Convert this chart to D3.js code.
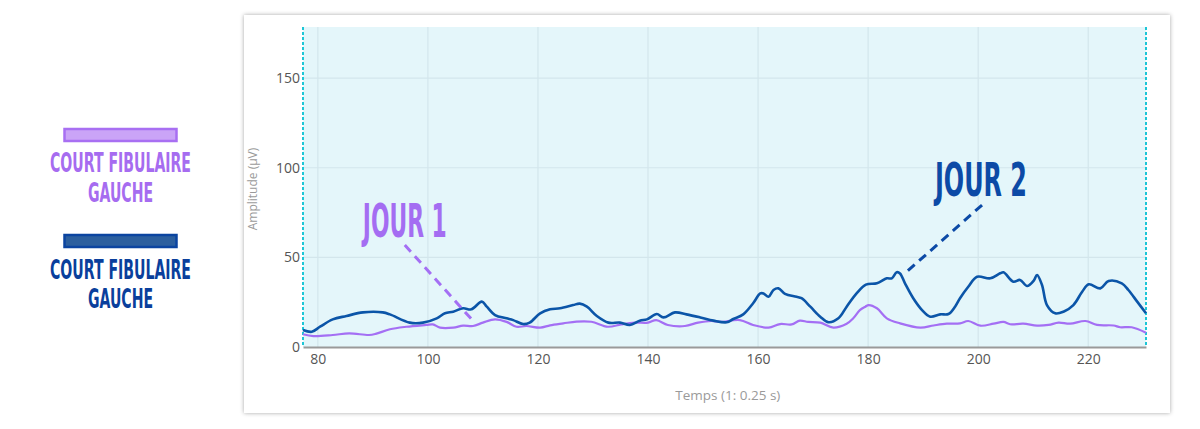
<!DOCTYPE html>
<html>
<head>
<meta charset="utf-8">
<script src="https://cdn.jsdelivr.net/npm/d3@7"></script>
<style>
  html, body { margin: 0; padding: 0; background: #ffffff; }
  svg { display: block; }
</style>
</head>
<body>
<svg id="chart" width="1200" height="429"></svg>
<script>
// ---- data ----
const xTicks = [80, 100, 120, 140, 160, 180, 200, 220];
const yTicks = [0, 50, 100, 150];
const legendLabels = ["COURT FIBULAIRE", "GAUCHE"];
const annotationLabels = ["JOUR 1", "JOUR 2"];
const xAxisTitle = "Temps (1: 0.25 s)";
const yAxisTitle = "Amplitude (µV)";

// Jour 2 (dark blue)
const jour2X = [77.3, 78.9, 80.4, 82.7, 85.2, 88.2, 91.8, 93.1, 96.7, 99.1, 101.6, 103.1, 104.6, 106.4, 107.9, 109.8, 110.7, 112.2, 114.3, 115.5, 117.3, 118.5, 120.4, 122.2, 124, 126.4, 127.6, 128.9, 130.7, 132.8, 134.9, 136.7, 138.5, 139.8, 141.6, 142.8, 144.9, 147, 149.5, 151.9, 154.3, 155.5, 157.3, 159.1, 160.4, 161, 161.9, 162.8, 163.7, 164.9, 167, 167.9, 169.5, 171.3, 172.8, 174.6, 176.1, 177.9, 179.6, 181.6, 183.4, 184.3, 185.2, 185.8, 186.7, 188.2, 189.8, 191.3, 193.1, 194.6, 195.8, 196.7, 198.2, 199.8, 202.2, 204, 204.6, 206.4, 207.6, 208.9, 210.1, 210.7, 211.6, 212.5, 214, 215.5, 217.3, 218.9, 220.1, 222.2, 223.7, 226.1, 227.3, 228.9, 230.5];
const jour2Y = [9.5, 8.5, 11.3, 15.4, 17.3, 19.3, 19.3, 18.2, 13.6, 13.6, 16, 18.8, 19.7, 21.6, 21, 25.3, 22.5, 17.8, 16, 15, 12.8, 13.6, 18.8, 21, 21.6, 23.4, 24.2, 22.5, 17.3, 13.6, 13.6, 12.3, 14.7, 15.4, 18.4, 16.5, 19.3, 18.2, 16.5, 14.7, 13.8, 15.6, 18.2, 24.4, 29.9, 29.9, 28, 31.8, 32.7, 29.6, 28, 27.2, 22.5, 16.9, 13.8, 16, 22.5, 29.9, 34.8, 35.5, 38.3, 38.3, 41.7, 41, 35.5, 27.2, 20.6, 16.9, 18.2, 18.4, 22.5, 27.2, 33.6, 39.2, 38.3, 41.1, 41.7, 36.4, 37.4, 34, 37, 40.2, 34.6, 23.4, 18.8, 19.7, 23.4, 30.8, 35, 32.7, 36.8, 35.5, 31.8, 25.3, 18.8];

// Jour 1 (purple)
const jour1X = [77.3, 79.2, 82.7, 85.7, 89.3, 90.5, 93.1, 96.1, 99.7, 100.9, 102.2, 104.6, 106.4, 108.2, 110, 112.2, 114.3, 116.1, 117.9, 120.4, 122.2, 124.6, 127, 129.7, 132.7, 135.1, 137.6, 140, 141.5, 143.6, 146.7, 149.1, 151.5, 153.1, 156.7, 159.1, 161.9, 164, 166.1, 167.6, 169.1, 171.3, 173.7, 176.1, 177.3, 178.5, 179.5, 180.1, 181.6, 183.4, 185.8, 189.5, 191.9, 194.3, 196.7, 198.2, 200.4, 202.8, 204.6, 205.8, 208.2, 210.7, 212.8, 214.6, 216.7, 219.5, 221.6, 224.6, 225.8, 227.9, 230.5];
const jour1Y = [7.1, 6.1, 6.7, 7.6, 6.7, 7.3, 9.9, 11.3, 12.3, 12.6, 10.8, 10.8, 11.9, 11.7, 13.6, 15.4, 14, 11.3, 11.7, 10.8, 12.1, 13.2, 14.2, 14.1, 11.3, 12.6, 13.6, 13.6, 15, 12.3, 11.7, 13.6, 14.5, 14, 15, 12.3, 10.8, 12.8, 12.6, 14.7, 14, 13.6, 10.8, 13, 16, 20.6, 22.5, 23.4, 21.6, 16, 13.2, 10.8, 12, 13, 13.2, 14.5, 11.9, 13, 14, 12.7, 13, 11.9, 12.3, 13.6, 13, 14.5, 12.3, 12, 11, 11, 8];

// annotation anchor points in data units [x, y]
const jour1Leader = [[95.8, 56.9], [108.4, 13.9]];
const jour2Leader = [[200.7, 79.2], [186.8, 41.4]];
const jour1LabelPos = [95.8, 61.4];
const jour2LabelPos = [200.5, 84.2];

// ---- layout ----
const svg = d3.select("#chart");
const plot = { left: 303, right: 1146, top: 27, bottom: 347 };
const xScale = d3.scaleLinear().domain([77.3, 230.5]).range([plot.left, plot.right]);
const yScale = d3.scaleLinear().domain([0, 178.5]).range([plot.bottom, plot.top]);

const colPurple = "#a46ff4";
const colBlue = "#0b55a8";

const defs = svg.append("defs");
const f = defs.append("filter").attr("id", "shadow").attr("x", "-5%").attr("y", "-5%").attr("width", "110%").attr("height", "110%");
f.append("feDropShadow").attr("dx", 0).attr("dy", 0).attr("stdDeviation", 2).attr("flood-color", "#000").attr("flood-opacity", 0.35);

// card
svg.append("rect").attr("x", 244).attr("y", 15).attr("width", 926).attr("height", 398)
  .attr("fill", "#fff").attr("filter", "url(#shadow)");

// plot background
svg.append("rect").attr("x", plot.left).attr("y", plot.top)
  .attr("width", plot.right - plot.left).attr("height", plot.bottom - plot.top)
  .attr("fill", "#e4f6fa");

// grid
const g = svg.append("g");
g.selectAll("line.vg").data(xTicks).join("line")
  .attr("x1", d => xScale(d)).attr("x2", d => xScale(d))
  .attr("y1", plot.top).attr("y2", plot.bottom)
  .attr("stroke", "#d3e6ec").attr("stroke-width", 1.2);
g.selectAll("line.hg").data(yTicks.filter(d => d > 0)).join("line")
  .attr("x1", plot.left).attr("x2", plot.right)
  .attr("y1", d => yScale(d)).attr("y2", d => yScale(d))
  .attr("stroke", "#d3e6ec").attr("stroke-width", 1.2);

// axes via d3
const xAxis = d3.axisBottom(xScale).tickValues(xTicks).tickSize(0).tickPadding(7);
const xg = svg.append("g").attr("transform", `translate(0,${plot.bottom})`).call(xAxis);
xg.select(".domain").attr("stroke", "#9a9a9a").attr("stroke-width", 2);
xg.selectAll("text").attr("font-family", "Open Sans, sans-serif").attr("font-size", 14).attr("fill", "#555");

const yAxis = d3.axisLeft(yScale).tickValues(yTicks).tickSize(0).tickPadding(3);
const yg = svg.append("g").attr("transform", `translate(${plot.left},0)`).call(yAxis);
yg.select(".domain").remove();
yg.selectAll("text").attr("font-family", "Open Sans, sans-serif").attr("font-size", 14).attr("fill", "#555");

// dotted border lines
[plot.left, plot.right].forEach(x => {
  svg.append("line").attr("x1", x).attr("x2", x).attr("y1", plot.top).attr("y2", plot.bottom)
    .attr("stroke", "#1cc6d6").attr("stroke-width", 2).attr("stroke-dasharray", "3,2");
});

// titles
svg.append("text").attr("x", xScale(154.5)).attr("y", 400).attr("text-anchor", "middle")
  .attr("font-family", "Open Sans, sans-serif").attr("font-size", 13.5).attr("fill", "#9a9a9a")
  .text(xAxisTitle);
svg.append("text").attr("transform", "translate(257,189) rotate(-90)").attr("text-anchor", "middle")
  .attr("font-family", "Open Sans, sans-serif").attr("font-size", 12).attr("fill", "#9a9a9a")
  .text(yAxisTitle);

// lines
const line = d3.line().x(d => xScale(d[0])).y(d => yScale(d[1])).curve(d3.curveCatmullRom.alpha(0.5));
const j1 = jour1X.map((x, i) => [x, jour1Y[i]]);
const j2 = jour2X.map((x, i) => [x, jour2Y[i]]);
svg.append("path").datum(j1).attr("d", line).attr("fill", "none").attr("stroke", colPurple).attr("stroke-width", 2.2);
svg.append("path").datum(j2).attr("d", line).attr("fill", "none").attr("stroke", colBlue).attr("stroke-width", 2.6);

// leaders
const leader = d3.line().x(d => xScale(d[0])).y(d => yScale(d[1]));
svg.append("path").datum(jour1Leader).attr("d", leader).attr("stroke", "#a46ff4").attr("stroke-width", 3)
  .attr("stroke-dasharray", "9,6").attr("fill", "none");
svg.append("path").datum(jour2Leader).attr("d", leader).attr("stroke", "#0c4aa6").attr("stroke-width", 3)
  .attr("stroke-dasharray", "9,6").attr("fill", "none");

// annotation labels
const condensed = "'Liberation Sans Narrow', 'DejaVu Sans Condensed', sans-serif";
svg.append("text").attr("x", xScale(jour1LabelPos[0])).attr("y", yScale(jour1LabelPos[1]))
  .attr("text-anchor", "middle").attr("font-family", condensed).attr("font-weight", "bold")
  .attr("font-size", 46).attr("fill", "#a46df2")
  .attr("textLength", 84).attr("lengthAdjust", "spacingAndGlyphs").text(annotationLabels[0]);
svg.append("text").attr("x", xScale(jour2LabelPos[0])).attr("y", yScale(jour2LabelPos[1]))
  .attr("text-anchor", "middle").attr("font-family", condensed).attr("font-weight", "bold")
  .attr("font-size", 47).attr("fill", "#0c4aa6")
  .attr("textLength", 92).attr("lengthAdjust", "spacingAndGlyphs").text(annotationLabels[1]);

// legend
const legendItems = [
  { fill: "#caa4f7", stroke: "#a86ff2", text: "#a66cf0", rectY: 129, y1: 172, y2: 202 },
  { fill: "#2c5f9e", stroke: "#0b44a0", text: "#0a3f9c", rectY: 235, y1: 279, y2: 308 }
];
const lg = svg.append("g");
legendItems.forEach(it => {
  lg.append("rect").attr("x", 64.5).attr("y", it.rectY).attr("width", 112).attr("height", 12)
    .attr("fill", it.fill).attr("stroke", it.stroke).attr("stroke-width", 2.5);
  lg.append("text").attr("x", 120.5).attr("y", it.y1).attr("text-anchor", "middle")
    .attr("font-family", condensed).attr("font-weight", "bold").attr("font-size", 26)
    .attr("fill", it.text).attr("textLength", 141).attr("lengthAdjust", "spacingAndGlyphs")
    .text(legendLabels[0]);
  lg.append("text").attr("x", 120.5).attr("y", it.y2).attr("text-anchor", "middle")
    .attr("font-family", condensed).attr("font-weight", "bold").attr("font-size", 26)
    .attr("fill", it.text).attr("textLength", 65).attr("lengthAdjust", "spacingAndGlyphs")
    .text(legendLabels[1]);
});
</script>
</body>
</html>
